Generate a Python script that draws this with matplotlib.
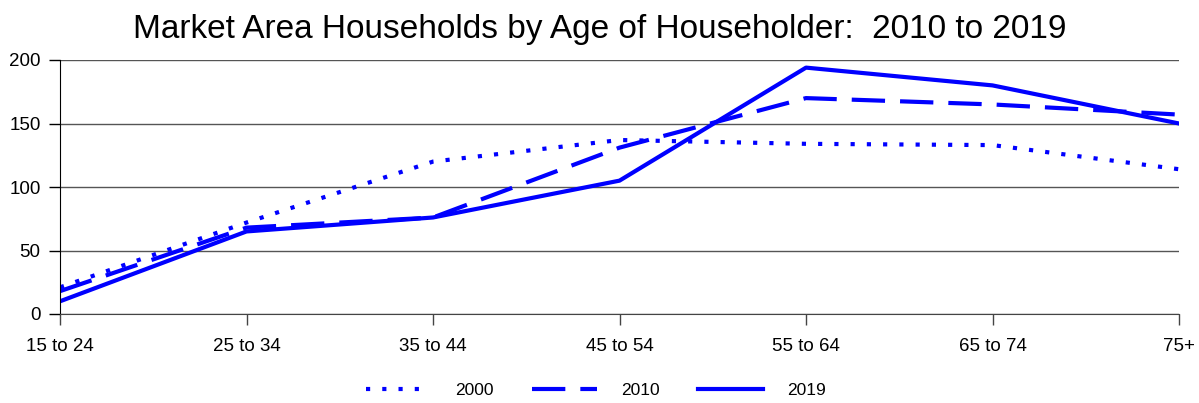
import matplotlib
matplotlib.use("Agg")
import matplotlib.pyplot as plt
import numpy as np

categories = ["15 to 24", "25 to 34", "35 to 44", "45 to 54", "55 to 64", "65 to 74", "75+"]
s2000 = [21, 72, 120, 137, 134, 133, 114]
s2010 = [18, 68, 76, 131, 170, 165, 157]
s2019 = [10, 65, 76, 105, 194, 180, 150]
yticks = [0, 50, 100, 150, 200]

plt.rcParams['font.family'] = ['Liberation Sans', 'DejaVu Sans']

fig = plt.figure(figsize=(11.99, 4.03), dpi=100)
ax = fig.add_axes([60/1199, 89/403, 1119/1199, 254/403])

x = np.arange(len(categories))
lw = 3.0
ax.plot(x, s2000, color='#0000ff', lw=lw, linestyle=(0, (1.0, 2.9)), dash_capstyle='butt', label='2000')
ax.plot(x, s2010, color='#0000ff', lw=lw, linestyle=(0, (8, 3.6)), dash_capstyle='butt', label='2010')
ax.plot(x, s2019, color='#0000ff', lw=lw, linestyle='-', label='2019')

ax.set_xlim(0, len(categories) - 1)
ax.set_ylim(0, 200)
ax.set_yticks(yticks)
ax.set_xticks(x)
ax.set_xticklabels(categories, fontsize=13.5)
ax.tick_params(axis='y', labelsize=13.5, length=8, width=1, color='black', pad=6)
ax.tick_params(axis='x', length=8, width=1, color='#444444', pad=9)
ax.yaxis.grid(True, color='#555555', lw=1)
ax.set_axisbelow(True)
for s in ['right', 'top']:
    ax.spines[s].set_visible(False)
ax.spines['left'].set_color('black')
ax.spines['bottom'].set_color('#444444')

fig.suptitle("Market Area Households by Age of Householder:  2010 to 2019", fontsize=24, y=0.965)

fig.legend(loc='center', bbox_to_anchor=(0.497, 0.03), ncol=3, frameon=False, fontsize=12.5,
           handlelength=3.74, columnspacing=2.24, handletextpad=1.38)

fig.savefig("out.png", dpi=100)
